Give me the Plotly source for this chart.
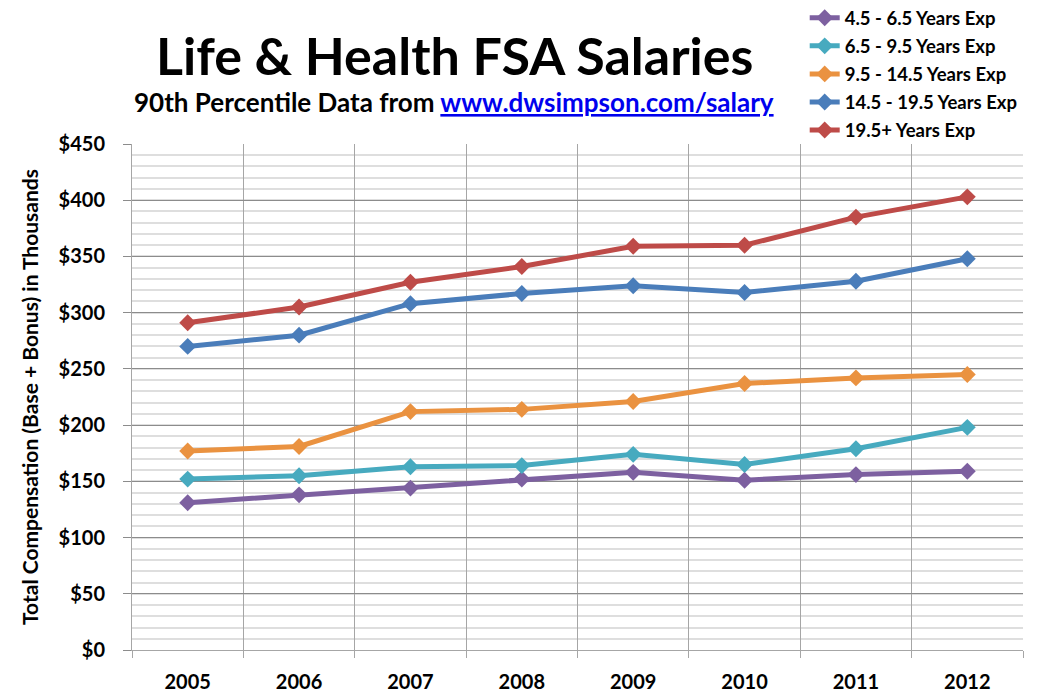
import plotly.graph_objects as go

years = ['2005', '2006', '2007', '2008', '2009', '2010', '2011', '2012']

exp_4_6 = [131, 138, 144, 152, 158, 151, 156, 159]
exp_6_9 = [152, 155, 163, 164, 174, 165, 179, 198]
exp_9_14 = [177, 181, 212, 214, 221, 237, 242, 245]
exp_14_19 = [270, 280, 308, 317, 324, 318, 328, 348]
exp_19_plus = [291, 305, 327, 341, 359, 360, 385, 403]

series_names = ['4.5 - 6.5 Years Exp', '6.5 - 9.5 Years Exp', '9.5 - 14.5 Years Exp',
                '14.5 - 19.5 Years Exp', '19.5+ Years Exp']
series_values = [exp_4_6, exp_6_9, exp_9_14, exp_14_19, exp_19_plus]
series_colors = ['#7D60A0', '#47AABF', '#EA9240', '#4A7DBA', '#BE4B48']

y_tick_vals = [0, 50, 100, 150, 200, 250, 300, 350, 400, 450]
y_tick_text = ['$' + str(v) for v in y_tick_vals]

font_family = 'Lato, Open Sans, sans-serif'

fig = go.Figure()
for name, vals, color in zip(series_names, series_values, series_colors):
    fig.add_trace(go.Scatter(
        x=years, y=vals, mode='lines+markers', name=name, legendgroup=name,
        line=dict(color=color, width=5),
        marker=dict(symbol='diamond', size=13, color=color),
    ))

# page body has an 8px margin, so the figure is a bit smaller than the window
fig.update_layout(
    width=1029, height=685,
    margin=dict(l=124, r=14, t=136, b=43, autoexpand=False),
    plot_bgcolor='white',
    paper_bgcolor='white',
    font=dict(family=font_family, color='black'),
    showlegend=True,
    legend=dict(
        xref='paper', yref='paper',
        x=0.755, y=1.286, xanchor='left', yanchor='top',
        font=dict(size=18.5, color='black', weight='bold'),
        tracegroupgap=1,
        bgcolor='rgba(0,0,0,0)',
        itemwidth=30,
    ),
    xaxis=dict(
        type='category',
        tickson='boundaries',
        showgrid=True, gridcolor='#a6a6a6', gridwidth=1,
        ticks='outside', ticklen=7, tickcolor='#a6a6a6',
        showline=True, linecolor='#a6a6a6', linewidth=1,
        tickfont=dict(size=20, weight='bold'),
        ticklabelstandoff=14,
        range=[-0.5, 7.5],
    ),
    yaxis=dict(
        range=[0, 450],
        tickvals=y_tick_vals, ticktext=y_tick_text,
        showgrid=True, gridcolor='#8c8c8c', gridwidth=1,
        ticks='outside', ticklen=8, tickcolor='#8c8c8c',
        showline=True, linecolor='#a6a6a6', linewidth=1,
        tickfont=dict(size=20, weight='bold'),
        ticklabelstandoff=14,
        zeroline=False,
        minor=dict(dtick=10, showgrid=True, gridcolor='#dedede', gridwidth=2),
        title=dict(text='Total Compensation (Base + Bonus) in Thousands',
                   font=dict(size=21, weight='bold'), standoff=14),
    ),
)

fig.add_annotation(
    text='Life & Health FSA Salaries',
    xref='paper', yref='paper', x=0.3625, y=1.0, yshift=56,
    xanchor='center', yanchor='bottom', showarrow=False,
    font=dict(size=52, weight='bold', color='black'),
)
fig.add_annotation(
    text='90th Percentile Data from <span style="color:#0000EE;text-decoration:underline">www.dwsimpson.com/salary</span>',
    xref='paper', yref='paper', x=0.0, y=1.0, yshift=24,
    xanchor='left', yanchor='bottom', showarrow=False,
    font=dict(size=26, weight='bold', color='black'),
)

fig.write_html('out.html')
